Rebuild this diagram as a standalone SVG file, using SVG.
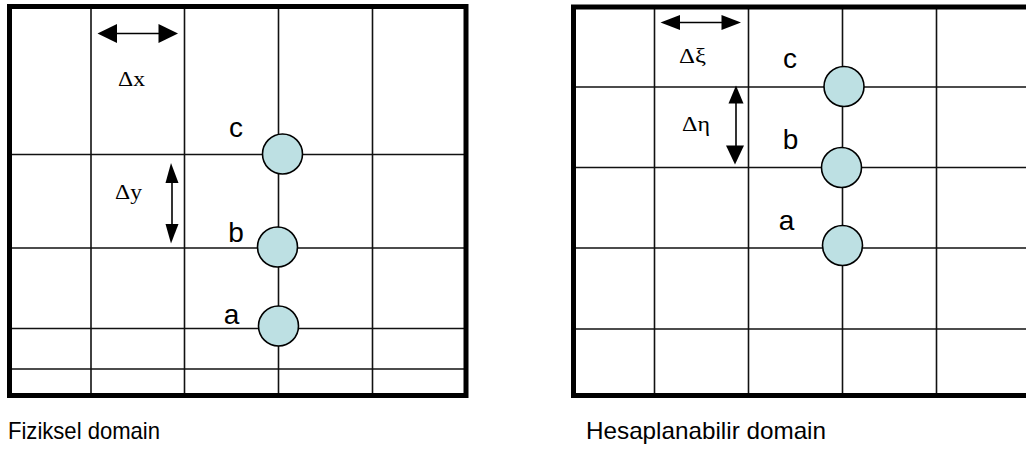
<svg xmlns="http://www.w3.org/2000/svg" width="1026" height="450" viewBox="0 0 1026 450">
<style>
.frame{fill:none;stroke:#000;stroke-width:5}
.grid{stroke:#111;stroke-width:1.6;fill:none}
.node circle{fill:#bde0e3;stroke:#000;stroke-width:1.6}
.lbl{font-family:"Liberation Sans",Arial,sans-serif;font-size:28px;fill:#000;text-anchor:middle}
.gk{font-family:"Liberation Serif","Times New Roman",serif;font-size:21px;fill:#000}
.cap{font-family:"Liberation Sans",Arial,sans-serif;font-size:24px;fill:#000}
.arr line{stroke:#000;stroke-width:1.6}
.arr polygon{fill:#000}
</style>
<rect width="1026" height="450" fill="#fff"/>
<g id="left-domain">
  <g class="grid">
    <line x1="91" y1="7" x2="91" y2="395"/>
    <line x1="184.5" y1="7" x2="184.5" y2="395"/>
    <line x1="278.5" y1="7" x2="278.5" y2="395"/>
    <line x1="372.5" y1="7" x2="372.5" y2="395"/>
    <line x1="10" y1="154.5" x2="466" y2="154.5"/>
    <line x1="10" y1="248" x2="466" y2="248"/>
    <line x1="10" y1="328.5" x2="466" y2="328.5"/>
    <line x1="10" y1="369" x2="466" y2="369"/>
  </g>
  <rect class="frame" x="9.5" y="6.5" width="456.5" height="389"/>
</g>
<g id="right-domain">
  <g class="grid">
    <line x1="654.5" y1="7" x2="654.5" y2="396"/>
    <line x1="748.5" y1="7" x2="748.5" y2="396"/>
    <line x1="842.5" y1="7" x2="842.5" y2="396"/>
    <line x1="936.5" y1="7" x2="936.5" y2="396"/>
    <line x1="574" y1="87" x2="1026" y2="87"/>
    <line x1="574" y1="167.5" x2="1026" y2="167.5"/>
    <line x1="574" y1="248" x2="1026" y2="248"/>
    <line x1="574" y1="329" x2="1026" y2="329"/>
  </g>
  <rect class="frame" x="573.5" y="7" width="470" height="388.5"/>
</g>
<g id="connectors" class="arr">
  <line x1="112" y1="33.5" x2="164" y2="33.5"/>
  <polygon points="97.5,33.5 117,24 117,43"/>
  <polygon points="178,33.5 158.5,24 158.5,43"/>
  <line x1="172" y1="178" x2="172" y2="229"/>
  <polygon points="171,163 165.5,183 178.5,183"/>
  <polygon points="171,243.5 165.5,224 178.5,224"/>
  <line x1="675" y1="22.5" x2="727" y2="22.5"/>
  <polygon points="660.5,22.5 680,15 680,30"/>
  <polygon points="741,22.5 721.5,15 721.5,30"/>
  <line x1="736" y1="100" x2="736" y2="150"/>
  <polygon points="736,85.5 728.5,103.5 743.5,103.5"/>
  <polygon points="735,164.5 726,145.5 744,145.5"/>
</g>
<g id="node-left-c" class="node"><circle cx="282.5" cy="154" r="20"/><text class="lbl" x="236" y="136.5">c</text></g>
<g id="node-left-b" class="node"><circle cx="277.5" cy="247" r="20"/><text class="lbl" x="236" y="241.5">b</text></g>
<g id="node-left-a" class="node"><circle cx="278.5" cy="326" r="20"/><text class="lbl" x="231.5" y="324">a</text></g>
<g id="node-right-c" class="node"><circle cx="844" cy="86.5" r="20"/><text class="lbl" x="790" y="68">c</text></g>
<g id="node-right-b" class="node"><circle cx="841.5" cy="167.5" r="20"/><text class="lbl" x="790.5" y="149">b</text></g>
<g id="node-right-a" class="node"><circle cx="842.5" cy="245.5" r="20"/><text class="lbl" x="786.5" y="230">a</text></g>
<g id="labels">
  <text class="gk" x="118" y="86" textLength="27" lengthAdjust="spacingAndGlyphs">Δx</text>
  <text class="gk" x="115" y="199" textLength="27" lengthAdjust="spacingAndGlyphs">Δy</text>
  <text class="gk" x="679" y="63" textLength="27" lengthAdjust="spacingAndGlyphs">Δξ</text>
  <text class="gk" x="682" y="131" textLength="28" lengthAdjust="spacingAndGlyphs">Δη</text>
  <text class="cap" x="8" y="439" textLength="152" lengthAdjust="spacingAndGlyphs">Fiziksel domain</text>
  <text class="cap" x="586" y="439" textLength="240" lengthAdjust="spacingAndGlyphs">Hesaplanabilir domain</text>
</g>
</svg>
